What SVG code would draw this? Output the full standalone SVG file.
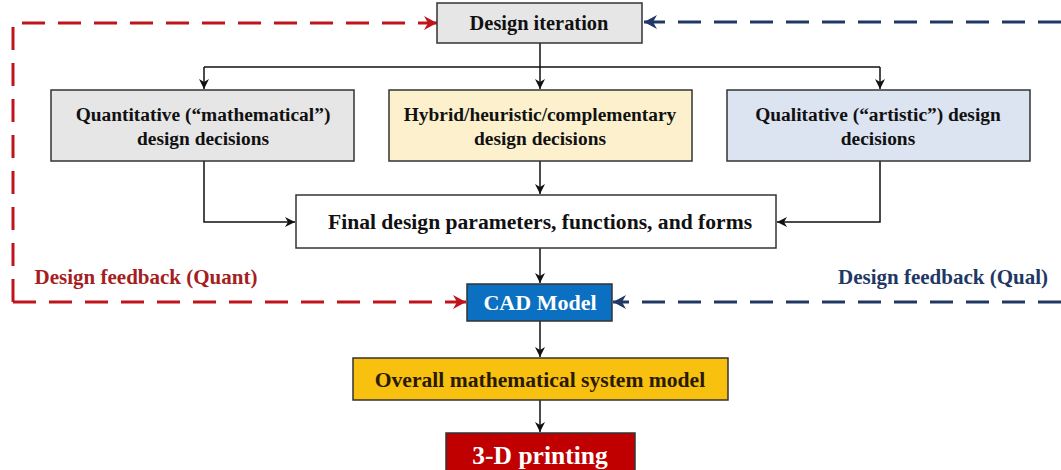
<svg xmlns="http://www.w3.org/2000/svg" width="1061" height="470" viewBox="0 0 1061 470">
<defs>
<marker id="ak" markerWidth="12" markerHeight="12" viewBox="0 0 12 12" refX="11" refY="6" orient="auto" markerUnits="userSpaceOnUse">
<path d="M1,1 L11,6 L1,11 L4,6 Z" fill="#111"/>
</marker>
<marker id="ar" markerWidth="16" markerHeight="16" viewBox="0 0 16 16" refX="15" refY="8" orient="auto" markerUnits="userSpaceOnUse">
<path d="M2,1 L15,8 L2,15 L6,8 Z" fill="#c0141c"/>
</marker>
<marker id="ab" markerWidth="16" markerHeight="16" viewBox="0 0 16 16" refX="15" refY="8" orient="auto" markerUnits="userSpaceOnUse">
<path d="M2,1 L15,8 L2,15 L6,8 Z" fill="#1f3864"/>
</marker>
</defs>
<style>
.b{stroke:#333;stroke-width:1.5}
.t{font-family:"Liberation Serif","Times New Roman",serif;font-weight:bold;fill:#111;text-anchor:middle}
.m{font-size:19.4px}
.c{fill:none;stroke:#111;stroke-width:1.5}
.rd{fill:none;stroke:#c0141c;stroke-width:3;stroke-dasharray:23 13}
.bd{fill:none;stroke:#1f3864;stroke-width:3;stroke-dasharray:23 13}
</style>
<g id="connectors">
<path class="rd" d="M13,302 L13,23 L437,23" marker-end="url(#ar)"/>
<path class="rd" d="M13,302 L466,302" marker-end="url(#ar)"/>
<path class="bd" d="M1061,22 L644,22" marker-end="url(#ab)"/>
<path class="bd" d="M1061,302 L613,302" marker-end="url(#ab)"/>
<path class="c" d="M540,43 L540,67"/>
<path class="c" d="M204,67 L880,67"/>
<path class="c" d="M204,67 L204,89" marker-end="url(#ak)"/>
<path class="c" d="M540,67 L540,89" marker-end="url(#ak)"/>
<path class="c" d="M880,67 L880,89" marker-end="url(#ak)"/>
<path class="c" d="M204,161 L204,222 L295,222" marker-end="url(#ak)"/>
<path class="c" d="M540,161 L540,194" marker-end="url(#ak)"/>
<path class="c" d="M880,161 L880,222 L777,222" marker-end="url(#ak)"/>
<path class="c" d="M540,248 L540,283" marker-end="url(#ak)"/>
<path class="c" d="M540,321 L540,357" marker-end="url(#ak)"/>
<path class="c" d="M540,400 L540,432" marker-end="url(#ak)"/>
</g>
<g id="design-iteration">
<rect class="b" x="437" y="3" width="205" height="40" fill="#e6e6e6"/>
<text class="t" x="539" y="30" style="font-size:20.4px">Design iteration</text>
</g>
<g id="quant">
<rect class="b" x="51" y="90" width="303" height="71" fill="#e6e6e6"/>
<text class="t m" x="203" y="121">Quantitative  (“mathematical”)</text>
<text class="t m" x="203" y="145">design decisions</text>
</g>
<g id="hybrid">
<rect class="b" x="389" y="90" width="303" height="71" fill="#fdf1cd"/>
<text class="t m" x="540" y="121">Hybrid/heuristic/complementary</text>
<text class="t m" x="540" y="145">design decisions</text>
</g>
<g id="qual">
<rect class="b" x="727" y="90" width="303" height="71" fill="#dce4f1"/>
<text class="t m" x="878" y="121">Qualitative  (“artistic”) design</text>
<text class="t m" x="878" y="145">decisions</text>
</g>
<g id="final">
<rect class="b" x="296" y="195" width="480" height="53" fill="#ffffff"/>
<text class="t" x="540" y="229" style="font-size:21.6px">Final design parameters, functions, and forms</text>
</g>
<g id="fb-quant">
<text class="t" x="146" y="284" style="font-size:21px;fill:#a41e22">Design feedback (Quant)</text>
</g>
<g id="fb-qual">
<text class="t" x="943" y="284" style="font-size:21px;fill:#1f3864">Design feedback (Qual)</text>
</g>
<g id="cad">
<rect class="b" x="467" y="284" width="145" height="37" fill="#0b6fc2"/>
<text class="t" x="540" y="310" style="font-size:22px;fill:#ffffff">CAD Model</text>
</g>
<g id="overall">
<rect class="b" x="353" y="358" width="375" height="42" fill="#f8c00f"/>
<text class="t" x="540" y="387" style="font-size:21.6px;fill:#2a1a00">Overall mathematical  system model</text>
</g>
<g id="printing">
<rect class="b" x="446" y="433" width="189" height="45" fill="#c00000"/>
<text class="t" x="540" y="464" style="font-size:25.5px;fill:#ffffff">3-D printing</text>
</g>
</svg>
